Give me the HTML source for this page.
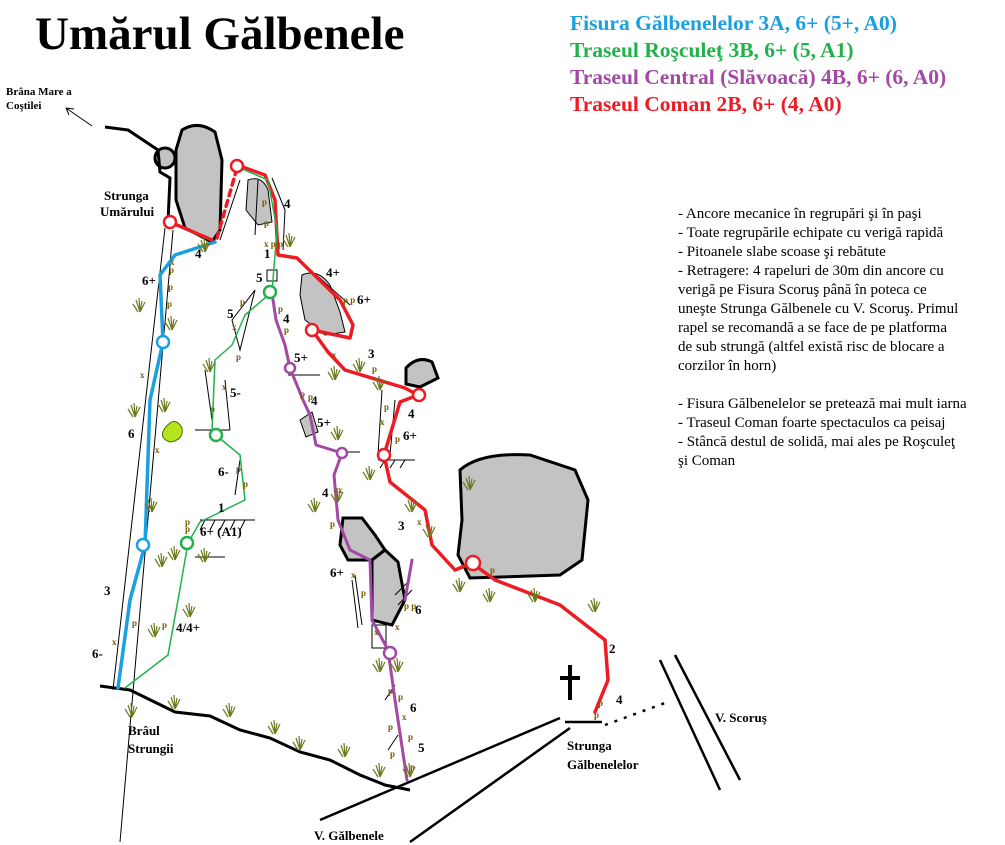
<!DOCTYPE html>
<html><head><meta charset="utf-8"><style>
html,body{margin:0;padding:0;background:#fff}
svg{display:block}
text{font-family:"Liberation Serif",serif;font-weight:bold}
.g{font-size:13px;fill:#000}
.p{font-size:9px;fill:#7a5a00}
.n text{font-size:15px;font-weight:normal;fill:#000}
</style></head><body>
<svg width="1005" height="845" viewBox="0 0 1005 845" xmlns="http://www.w3.org/2000/svg">
<defs>
<g id="t"><path d="M0,12 L-4,0 M0,12 L-1,-2 M0,12 L2,1 M0,12 L5,2 M-2,12 L-7,4" stroke="#6b7a1a" stroke-width="1.2" fill="none"/></g>
</defs>
<rect width="1005" height="845" fill="#fff"/>
<text x="35" y="49" style="font-size:47px">Umărul Gălbenele</text>
<text x="570" y="30" style="font-size:21.5px;fill:#1aa0e0">Fisura Gălbenelelor 3A, 6+ (5+, A0)</text>
<text x="570" y="57" style="font-size:21.5px;fill:#22b14c">Traseul Roşculeţ 3B, 6+ (5, A1)</text>
<text x="570" y="84" style="font-size:21.5px;fill:#a349a4">Traseul Central (Slăvoacă) 4B, 6+ (6, A0)</text>
<text x="570" y="111" style="font-size:21.5px;fill:#ed1c24">Traseul Coman 2B, 6+ (4, A0)</text>
<g class="n">
<text x="678" y="218">- Ancore mecanice în regrupări şi în paşi</text>
<text x="678" y="237">- Toate regrupările echipate cu verigă rapidă</text>
<text x="678" y="256">- Pitoanele slabe scoase şi rebătute</text>
<text x="678" y="275">- Retragere: 4 rapeluri de 30m din ancore cu</text>
<text x="678" y="294">verigă pe Fisura Scoruş până în poteca ce</text>
<text x="678" y="313">uneşte Strunga Gălbenele cu V. Scoruş. Primul</text>
<text x="678" y="332">rapel se recomandă a se face de pe platforma</text>
<text x="678" y="351">de sub strungă (altfel există risc de blocare a</text>
<text x="678" y="370">corzilor în horn)</text>
<text x="678" y="408">- Fisura Gălbenelelor se pretează mai mult iarna</text>
<text x="678" y="427">- Traseul Coman foarte spectaculos ca peisaj</text>
<text x="678" y="446">- Stâncă destul de solidă, mai ales pe Roşculeţ</text>
<text x="678" y="465">şi Coman</text>
</g>
<text x="6" y="95" style="font-size:11px">Brâna Mare a</text>
<text x="6" y="109" style="font-size:11px">Coştilei</text>
<path d="M92,126 L66,108 M66,108 l8,1 M66,108 l3,7" stroke="#000" fill="none"/>
<!-- rocks -->
<g stroke="#000" stroke-width="3" fill="#c3c3c3">
<path d="M182,130 Q198,120 215,132 L222,160 L220,230 L212,242 L185,228 L176,200 L176,150 Z"/>
<circle cx="165" cy="158" r="10"/>
<path d="M460,470 Q480,452 530,455 L575,470 L588,500 L582,560 L560,575 L470,578 L458,555 L462,520 Z"/>
<path d="M406,368 Q418,355 432,362 L438,378 L420,387 L406,384 Z"/>
<path d="M343,518 L362,518 L375,535 L385,550 L372,560 L348,560 L340,545 Z"/>
<path d="M385,550 L398,562 L405,600 L392,625 L372,620 L372,560 Z"/>
</g>
<g stroke="#000" stroke-width="1" fill="#c3c3c3">
<path d="M248,180 Q262,175 268,190 L272,222 L258,225 L246,210 Z"/>
<path d="M302,275 Q318,268 330,285 L340,312 L345,332 L325,335 L305,320 L300,295 Z"/>
<path d="M300,420 L312,412 L318,432 L306,437 Z"/>
</g>
<path d="M165,428 Q175,415 182,428 Q184,440 170,442 Q158,438 165,428 Z" fill="#b5e61d" stroke="#4a6a00"/>
<!-- boundary -->
<path d="M105,127 L128,130 L158,150 L160,172 L170,178 L168,222" stroke="#000" stroke-width="3" fill="none"/>
<path d="M165,228 L113,690 M173,230 L120,842" stroke="#000" stroke-width="1" fill="none"/>
<path d="M100,686 L130,690 L175,712 L210,716 L240,730 L270,738 L300,752 L330,760 L360,775 L385,785 L410,790" stroke="#000" stroke-width="3" fill="none"/>
<path d="M320,820 L560,718 M410,842 L570,728 M565,722 L602,722" stroke="#000" stroke-width="2.5" fill="none"/>
<path d="M660,660 L720,790 M675,655 L740,780" stroke="#000" stroke-width="2.5" fill="none"/>
<path d="M605,725 L665,703" stroke="#000" stroke-width="2.5" stroke-dasharray="3,7" fill="none"/>
<path d="M570,665 L570,700 M560,678 L580,678" stroke="#000" stroke-width="4"/>
<!-- thin crack lines -->
<g stroke="#000" stroke-width="1" fill="none">
<path d="M272,178 L285,210 L283,250 M255,235 L258,180 M305,265 L350,305 M220,240 L240,180"/>
<path d="M232,320 L255,290 L240,350 Z M382,390 L378,455 M395,400 L390,455"/>
<path d="M205,370 L212,420 M225,380 L230,430 M240,460 L235,495"/>
<path d="M200,520 L255,520 M200,530 l5,-10 M210,530 l5,-10 M220,530 l5,-10 M230,530 l5,-10 M240,530 l5,-10"/>
<path d="M378,460 L415,460 M380,468 l5,-8 M390,468 l5,-8 M400,468 l5,-8"/>
<path d="M288,375 L320,375 M195,430 L230,430 M195,557 L225,557 M338,452 L360,452"/>
<path d="M355,575 L362,625 M352,580 L358,628 M372,625 L386,625 L386,648 L372,648 Z"/>
<path d="M395,595 L410,580 M398,605 L412,590 M385,700 L395,685 M388,750 L398,735"/>
<rect x="267" y="270" width="10" height="11"/>
</g>
<!-- routes -->
<g fill="none" stroke-linecap="round" stroke-linejoin="round">
<path d="M215,242 L175,255 L160,275 L163,342 L150,400 L145,545 L130,600 L118,688" stroke="#1aa0e0" stroke-width="3.5"/>
<path d="M237,165 L265,175 L275,200 L278,255 L297,258 L340,300 L353,325 L350,338 L312,330 L328,352 L345,370 L405,388 L418,395 L400,402 L384,455 L390,482 L425,510 L432,545 L455,570 L472,563 L495,580 L560,605 L605,640 L608,680 L595,712" stroke="#ed1c24" stroke-width="3.5"/>
<path d="M170,222 L212,240" stroke="#ed1c24" stroke-width="3.5"/>
<path d="M217,238 L237,168" stroke="#ed1c24" stroke-width="3.5" stroke-dasharray="6,5"/>
<path d="M240,168 L268,180 L277,230 L275,255 L272,292 L245,315 L232,345 L215,360 L212,432 L240,455 L245,500 L200,522 L188,543 L178,600 L168,655 L125,688" stroke="#22b14c" stroke-width="1.5"/>
<path d="M272,293 L276,320 L285,345 L290,368 L303,400 L310,415 L316,445 L342,453 L334,475 L338,520 L350,550 L370,560 L372,620 L388,650 L395,700 L407,780 M405,600 L412,560" stroke="#a349a4" stroke-width="3"/>
<g stroke-width="2.5" fill="#fff">
<circle cx="163" cy="342" r="6" stroke="#1aa0e0"/><circle cx="143" cy="545" r="6" stroke="#1aa0e0"/>
<circle cx="170" cy="222" r="6" stroke="#ed1c24"/><circle cx="237" cy="166" r="6" stroke="#ed1c24"/>
<circle cx="312" cy="330" r="6" stroke="#ed1c24"/><circle cx="419" cy="395" r="6" stroke="#ed1c24"/>
<circle cx="384" cy="455" r="6" stroke="#ed1c24"/><circle cx="473" cy="563" r="7" stroke="#ed1c24"/>
<circle cx="270" cy="292" r="6" stroke="#22b14c"/><circle cx="216" cy="435" r="6" stroke="#22b14c"/>
<circle cx="187" cy="543" r="6" stroke="#22b14c"/>
<circle cx="290" cy="368" r="5" stroke="#a349a4"/><circle cx="342" cy="453" r="5" stroke="#a349a4"/>
<circle cx="390" cy="653" r="6" stroke="#a349a4"/>
</g>
</g>
<!-- grass -->
<g>
<use href="#t" x="140" y="300"/><use href="#t" x="172" y="318"/><use href="#t" x="135" y="405"/><use href="#t" x="165" y="400"/>
<use href="#t" x="205" y="240"/><use href="#t" x="290" y="235"/><use href="#t" x="210" y="360"/><use href="#t" x="162" y="555"/><use href="#t" x="175" y="548"/>
<use href="#t" x="205" y="550"/><use href="#t" x="152" y="500"/><use href="#t" x="190" y="605"/><use href="#t" x="155" y="625"/>
<use href="#t" x="132" y="705"/><use href="#t" x="175" y="697"/><use href="#t" x="230" y="705"/><use href="#t" x="275" y="722"/>
<use href="#t" x="300" y="738"/><use href="#t" x="345" y="745"/><use href="#t" x="380" y="765"/><use href="#t" x="338" y="428"/>
<use href="#t" x="370" y="468"/><use href="#t" x="315" y="500"/><use href="#t" x="338" y="490"/><use href="#t" x="412" y="500"/>
<use href="#t" x="430" y="525"/><use href="#t" x="380" y="660"/><use href="#t" x="398" y="660"/><use href="#t" x="410" y="765"/>
<use href="#t" x="360" y="360"/><use href="#t" x="335" y="368"/><use href="#t" x="380" y="378"/><use href="#t" x="490" y="590"/>
<use href="#t" x="535" y="590"/><use href="#t" x="460" y="580"/><use href="#t" x="595" y="600"/><use href="#t" x="470" y="478"/>
</g>
<!-- grades -->
<g class="g">
<text x="195" y="258">4</text><text x="264" y="258">1</text><text x="256" y="282">5</text><text x="284" y="208">4</text>
<text x="326" y="277">4+</text><text x="357" y="304">6+</text><text x="283" y="323">4</text><text x="294" y="362">5+</text>
<text x="368" y="358">3</text><text x="311" y="405">4</text><text x="317" y="427">5+</text><text x="408" y="418">4</text>
<text x="403" y="440">6+</text><text x="142" y="285">6+</text><text x="227" y="318">5</text><text x="230" y="397">5-</text>
<text x="218" y="476">6-</text><text x="218" y="512">1</text><text x="200" y="536">6+ (A1)</text><text x="128" y="438">6</text>
<text x="104" y="595">3</text><text x="92" y="658">6-</text><text x="176" y="632">4/4+</text><text x="322" y="497">4</text>
<text x="398" y="530">3</text><text x="330" y="577">6+</text><text x="415" y="614">6</text><text x="410" y="712">6</text>
<text x="418" y="752">5</text><text x="609" y="653">2</text><text x="616" y="704">4</text>
</g>
<g class="p">
<text x="169" y="273">p</text><text x="168" y="290">p</text><text x="167" y="307">p</text><text x="262" y="205">p</text>
<text x="264" y="226">p</text><text x="264" y="247">x p p</text><text x="343" y="303">p p</text><text x="278" y="312">p</text>
<text x="284" y="333">p</text><text x="300" y="397">p</text><text x="308" y="400">p</text><text x="332" y="358">x</text>
<text x="372" y="372">p</text><text x="384" y="410">p</text><text x="380" y="425">x</text><text x="395" y="442">p</text>
<text x="170" y="265">x</text><text x="140" y="378">x</text><text x="155" y="453">x</text><text x="232" y="330">x</text>
<text x="240" y="305">p</text><text x="236" y="360">p</text><text x="222" y="390">x</text><text x="210" y="412">p</text>
<text x="236" y="472">p</text><text x="243" y="487">p</text><text x="185" y="525">p</text><text x="185" y="532">p</text>
<text x="132" y="626">p</text><text x="112" y="645">x</text><text x="162" y="628">p</text><text x="338" y="493">x</text>
<text x="330" y="527">p</text><text x="351" y="578">x</text><text x="361" y="596">p</text><text x="404" y="609">p p</text>
<text x="395" y="630">x</text><text x="374" y="635">x</text><text x="388" y="694">p</text><text x="398" y="700">p</text>
<text x="402" y="720">x</text><text x="388" y="730">p</text><text x="408" y="740">p</text><text x="390" y="757">p</text>
<text x="410" y="770">p</text><text x="490" y="573">p</text><text x="598" y="706">p</text><text x="594" y="718">p</text>
<text x="417" y="525">x</text>
</g>
<g style="font-size:13px">
<text x="104" y="200">Strunga</text><text x="100" y="216">Umărului</text>
<text x="128" y="735">Brâul</text><text x="128" y="753">Strungii</text>
<text x="567" y="750">Strunga</text><text x="567" y="769">Gălbenelelor</text>
<text x="715" y="722">V. Scoruş</text><text x="314" y="840">V. Gălbenele</text>
</g>
</svg>
</body></html>
